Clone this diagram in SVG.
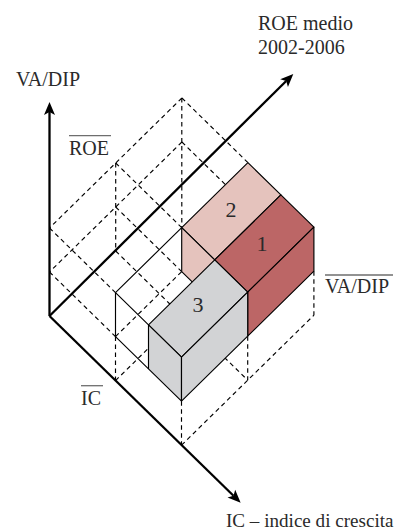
<svg xmlns="http://www.w3.org/2000/svg" width="396" height="532" viewBox="0 0 396 532">
  <style>
    .axis { stroke: #000; stroke-width: 2.3; fill: none; marker-end: url(#head); }
    .guide { stroke: #000; stroke-width: 1.15; stroke-dasharray: 4.5 3.5; fill: none; }
    .edge { stroke: #000; stroke-width: 1.15; stroke-linejoin: round; }
    .c1 { fill: #bc6666; }
    .c2 { fill: #e5c3bd; }
    .c3 { fill: #d2d3d5; }
    text { font-family: "Liberation Serif", "Times New Roman", serif; font-size: 20px; fill: #2a2a2a; }
    .num { font-size: 22px; text-anchor: middle; }
    .bar { stroke: #6e6e6e; stroke-width: 1.3; }
  </style>
  <defs>
    <marker id="head" viewBox="-14 -7 16 14" markerWidth="16" markerHeight="14" refX="-10" refY="0" orient="auto" markerUnits="userSpaceOnUse">
      <path d="M0,0 L-13,-5.5 L-10,0 L-13,5.5 Z" fill="#000"/>
    </marker>
  </defs>

  <!-- dashed reference lattice -->
  <g id="guides">
    <path class="guide" d="M181.9,98 L49.5,228"/>
    <path class="guide" d="M181.9,142 L49.5,272"/>
    <path class="guide" d="M115.7,163 V251"/>
    <path class="guide" d="M181.8,98 V227.6"/>
    <path class="guide" d="M49.5,228 L115.5,292.6"/>
    <path class="guide" d="M49.5,272 L115.5,336.6"/>
    <path class="guide" d="M115.5,336.6 V380.6"/>
    <path class="guide" d="M115.7,163 L181.7,227.6"/>
    <path class="guide" d="M115.7,207 L181.7,271.6"/>
    <path class="guide" d="M181.9,98 L247.9,162.6"/>
    <path class="guide" d="M181.9,142 L247.9,206.6"/>
    <path class="guide" d="M115.7,251 L247.7,380.2"/>
    <path class="guide" d="M115.5,336.6 L181.7,271.6"/>
    <path class="guide" d="M115.5,380.6 L181.7,315.6"/>
    <path class="guide" d="M181.5,445.2 L313.9,315.2"/>
    <path class="guide" d="M181.5,401.2 V445.2"/>
    <path class="guide" d="M247.7,336.2 V380.2"/>
    <path class="guide" d="M313.9,271.2 V315.2"/>
  </g>

  <!-- axes -->
  <g id="axes">
    <path class="axis" d="M49.5,316 V112"/>
    <path class="axis" d="M49.5,316 L286.2,81"/>
    <path class="axis" d="M49.5,316 L233.5,495.7"/>
  </g>

  <!-- open cell -->
  <g id="cell-open">
    <path class="edge" fill="none" d="M115.5,292.6 L181.7,227.6 M115.5,292.6 L148.5,324.9 M115.5,292.6 V336.6 L148.5,368.9"/>
  </g>

  <g id="cell-2">
    <polygon class="c2 edge" points="181.7,227.6 247.9,162.6 280.9,194.9 214.7,259.9"/>
    <polygon class="c2 edge" points="181.7,227.6 214.7,259.9 214.7,303.9 181.7,271.6"/>
    <text class="num" x="231" y="217">2</text>
  </g>

  <g id="cell-1">
    <polygon class="c1 edge" points="214.7,259.9 280.9,194.9 313.9,227.2 247.7,292.2"/>
    <polygon class="c1 edge" points="247.7,292.2 313.9,227.2 313.9,271.2 247.7,336.2"/>
    <text class="num" x="262" y="250.5">1</text>
  </g>

  <g id="cell-3">
    <polygon class="c3 edge" points="148.5,324.9 214.7,259.9 247.7,292.2 181.5,357.2"/>
    <polygon class="c3 edge" points="148.5,324.9 181.5,357.2 181.5,401.2 148.5,368.9"/>
    <polygon class="c3 edge" points="181.5,357.2 247.7,292.2 247.7,336.2 181.5,401.2"/>
    <text class="num" x="198" y="311.5">3</text>
  </g>

  <!-- axis and threshold labels -->
  <g id="labels">
    <text x="16" y="86">VA/DIP</text>
    <text x="258" y="30">ROE medio</text>
    <text x="258" y="54.3">2002-2006</text>
    <text x="226" y="526.7" style="font-size:19.1px">IC – indice di crescita</text>
    <text x="69" y="155">ROE</text>
    <line class="bar" x1="69" y1="135.7" x2="111" y2="135.7"/>
    <text x="325" y="293">VA/DIP</text>
    <line class="bar" x1="325" y1="275" x2="393" y2="275"/>
    <text x="81" y="405">IC</text>
    <line class="bar" x1="81" y1="385.7" x2="103" y2="385.7"/>
  </g>
</svg>
